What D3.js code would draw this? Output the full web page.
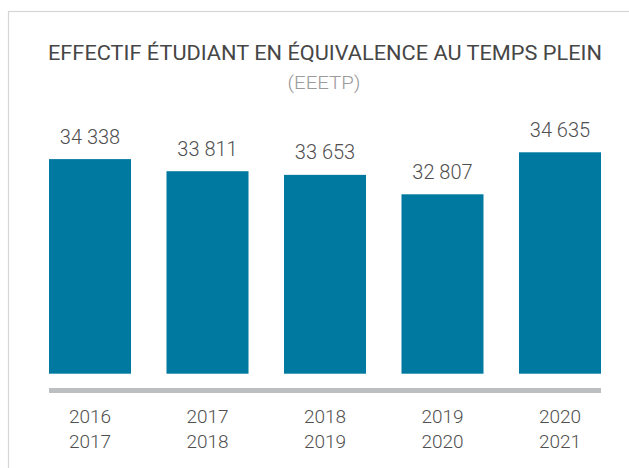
<!DOCTYPE html>
<html>
<head>
<meta charset="utf-8">
<script src="https://cdn.jsdelivr.net/npm/d3@7"></script>
<style>
html,body{margin:0;padding:0;background:#fff;}
svg{display:block;}
text{font-family:Roboto,"Noto Sans",sans-serif;}
</style>
</head>
<body>
<svg id="chart" width="629" height="468"></svg>
<script>
const title = "EFFECTIF ÉTUDIANT EN ÉQUIVALENCE AU TEMPS PLEIN";
const subtitle = "(EEETP)";
const categories = ["2016-2017", "2017-2018", "2018-2019", "2019-2020", "2020-2021"];
const categoryLines = [["2016","2017"],["2017","2018"],["2018","2019"],["2019","2020"],["2020","2021"]];
const values = [34338, 33811, 33653, 32807, 34635];
const valueLabels = ["34 338", "33 811", "33 653", "32 807", "34 635"];
const yDomain = [25000, 35000];

const svg = d3.select("#chart");

// frame
svg.append("rect")
  .attr("x", 8.5).attr("y", 11.5)
  .attr("width", 700).attr("height", 500)
  .attr("fill", "#fff").attr("stroke", "#d6d6d6").attr("stroke-width", 1.2);

// title
svg.append("text")
  .attr("x", 325).attr("y", 60)
  .attr("text-anchor", "middle")
  .attr("font-size", 20).attr("font-weight", 400)
  .attr("fill", "#464646")
  .attr("textLength", 554).attr("lengthAdjust", "spacingAndGlyphs")
  .text(title);

svg.append("text")
  .attr("x", 324).attr("y", 89)
  .attr("text-anchor", "middle")
  .attr("font-size", 17.5).attr("font-weight", 300)
  .attr("fill", "#9b9b9b")
  .attr("textLength", 73).attr("lengthAdjust", "spacingAndGlyphs")
  .text(subtitle);

const x = d3.scaleBand()
  .domain(categories)
  .range([49, 601])
  .paddingInner(0.302)
  .paddingOuter(0);

const y = d3.scaleLinear()
  .domain(yDomain)
  .range([373.7, 143.9]);

// bars
svg.append("g").selectAll("rect")
  .data(values)
  .join("rect")
  .attr("x", (d, i) => x(categories[i]))
  .attr("width", x.bandwidth())
  .attr("y", d => y(d))
  .attr("height", d => y(yDomain[0]) - y(d))
  .attr("fill", "#0079a1");

// value labels
svg.append("g").selectAll("text")
  .data(values)
  .join("text")
  .attr("x", (d, i) => x(categories[i]) + x.bandwidth() / 2)
  .attr("y", d => y(d) - 15.5)
  .attr("text-anchor", "middle")
  .attr("font-size", 20).attr("font-weight", 300)
  .attr("fill", "#4f4f4f")
  .text((d, i) => valueLabels[i]);

// axis baseline (thick gray bar)
const axis = d3.axisBottom(x).tickSize(0).tickFormat("");
const gAxis = svg.append("g").attr("transform", "translate(0,390.5)").call(axis);
gAxis.select(".domain")
  .attr("stroke", "#bdbec1").attr("stroke-width", 5)
  .attr("d", "M49,0H601");

// category labels
const lab = svg.append("g").selectAll("text")
  .data(categories)
  .join("text")
  .attr("x", d => x(d) + x.bandwidth() / 2)
  .attr("y", 423.3)
  .attr("text-anchor", "middle")
  .attr("font-size", 19).attr("font-weight", 300)
  .attr("fill", "#4f4f4f");
lab.each(function(d, i) {
  const t = d3.select(this);
  categoryLines[i].forEach((line, j) => {
    t.append("tspan")
      .attr("x", x(d) + x.bandwidth() / 2)
      .attr("dy", j === 0 ? 0 : 24.7)
      .text(line);
  });
});
</script>
</body>
</html>
